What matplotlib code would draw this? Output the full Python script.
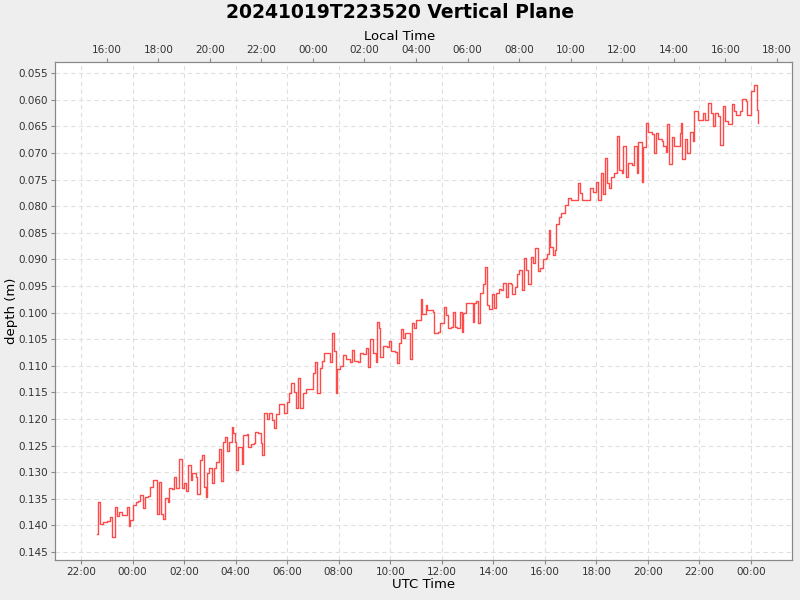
import matplotlib
matplotlib.use("Agg")
import matplotlib.pyplot as plt
import numpy as np

title = "20241019T223520 Vertical Plane"
# minutes since 2024-10-19 22:00 UTC
minutes = [37,40,44,51,61,68,72,78,84,89,95,106,111,115,122,127,133,137,144,149,157,161,167,176,181,186,190,196,202,206,
           213,217,221,229,234,240,244,250,255,259,268,271,277,282,286,291,293,299,304,310,314,321,326,330,335,339,344,351,355,359,
           361,366,374,378,386,389,396,403,404,413,418,421,427,434,438,445,449,454,460,473,479,485,490,496,501,506,511,518,525,539,
           545,550,556,560,566,580,584,589,594,597,603,611,617,626,630,636,646,650,657,663,669,674,680,687,690,693,696,704,712,718,
           721,731,735,740,744,749,754,766,770,775,780,791,795,803,806,819,822,832,836,845,850,855,861,865,871,876,882,886,890,896,
           912,915,920,925,930,935,940,946,950,956,961,967,973,979,983,989,994,1000,1004,1010,1016,1020,1026,1031,1037,1041,1048,1053,1058,1063,
           1069,1075,1083,1086,1090,1093,1098,1104,1107,1113,1118,1128,1134,1141,1158,1162,1166,1185,1193,1199,1204,1210,1215,1220,1225,1230,1235,1241,1247,1253,1259,1262,1269,
           1274,1282,1287,1294,1298,1305,1309,1315,1321,1329,1334,1339,1344,1352,1356,1362,1364,1370,1375,1380,1394,1398,1400,1406,1411,1418,1424,1428,1437,1449,
           1454,1460,1466,1471,1476,1484,1488,1494,1499,1507,1515,1520,1526,1534,1540,1548,1551,1559,1567,1573,1577]
depth = [.1416,.1356,.1397,.1393,.1391,.1384,.1421,.1365,.1382,.1374,.1380,.1365,.1401,.1389,.1361,.1356,.1354,.1343,.1367,.1346,.1344,.1327,.1314,.1378,.1318,.1378,.1388,.1348,.1356,.1329,
         .1331,.1309,.1329,.1275,.1329,.1320,.1335,.1286,.1314,.1301,.1309,.1341,.1277,.1267,.1327,.1346,.1301,.1292,.1320,.1292,.1281,.1256,.1316,.1243,.1234,.1260,.1243,.1215,.1226,.1243,
         .1296,.1252,.1284,.1230,.1228,.1252,.1247,.1245,.1224,.1226,.1245,.1267,.1189,.1200,.1189,.1202,.1217,.1190,.1172,.1189,.1168,.1151,.1132,.1149,.1179,.1123,.1179,.1151,.1143,.1113,
         .1093,.1151,.1104,.1091,.1076,.1093,.1038,.1072,.1151,.1106,.1100,.1080,.1087,.1093,.1070,.1091,.1093,.1076,.1078,.1066,.1102,.1050,.1076,.1093,.1018,.1029,.1083,.1063,.1065,.1053,
         .1072,.1074,.1095,.1057,.1031,.1048,.1038,.1087,.1020,.1029,.1014,.0974,.1003,.0986,.0995,.0999,.1038,.1036,.1020,.0989,.1004,.1029,.1027,.0999,.1027,.1029,.0999,.1036,.1001,.0982,
         .1018,.0982,.0978,.1020,.0963,.0946,.0914,.0986,.0993,.0965,.0991,.0963,.0956,.0958,.0944,.0971,.0944,.0946,.0965,.0952,.0927,.0920,.0958,.0897,.0920,.0946,.0896,.0907,.0879,.0922,
         .0916,.0899,.0897,.0890,.0845,.0877,.0892,.0882,.0834,.0820,.0812,.0798,.0785,.0789,.0757,.0775,.0789,.0766,.0773,.0755,.0789,.0738,.0777,.0710,.0757,.0766,.0745,.0738,.0668,.0732,.0738,.0687,.0745,
         .0719,.0723,.0687,.0738,.0680,.0755,.0689,.0644,.0661,.0665,.0700,.0663,.0674,.0678,.0687,.0698,.0646,.0721,.0670,.0687,.0663,.0644,.0711,.0674,.0700,.0661,.0678,.0621,.0638,.0625,
         .0638,.0606,.0625,.0650,.0625,.0631,.0685,.0612,.0640,.0646,.0608,.0621,.0629,.0621,.0599,.0602,.0629,.0584,.0573,.0619,.0644]

utc_ticks = list(range(0, 28, 2))
utc_labels = ["%02d:00" % ((22 + h) % 24) for h in utc_ticks]
local_ticks = list(range(1, 28, 2))
local_labels = ["%02d:00" % ((15 + h) % 24) for h in local_ticks]
ytick_vals = [0.055, 0.060, 0.065, 0.070, 0.075, 0.080, 0.085, 0.090, 0.095, 0.100,
              0.105, 0.110, 0.115, 0.120, 0.125, 0.130, 0.135, 0.140, 0.145]

hours = np.array(minutes) / 60.0
fig = plt.figure(figsize=(8, 6), dpi=100, facecolor="#eeeeee")
ax = fig.add_axes([55/800, 1-560/600, 737/800, 498/600])
ax.set_facecolor("white")
ax.plot(hours, depth, drawstyle="steps-post", color="#ff4a4a", lw=1.0)
ax.set_xlim(-1.009, 27.59)
ax.set_ylim(0.1465, 0.0529)
ax.set_yticks(ytick_vals)
ax.set_yticklabels(["%.3f" % v for v in ytick_vals], fontsize=7.5)
ax.set_xticks(utc_ticks)
ax.set_xticklabels(utc_labels, fontsize=7.5)
ax.grid(True, color="#e0e0e0", ls=(0, (4, 3)), lw=0.8)
ax.set_xlabel("UTC Time", fontsize=9.5, labelpad=1)
ax.tick_params(colors="#333333", length=3, color="#888888", pad=2)
for s in ax.spines.values():
    s.set_color("#888888")

ax2 = ax.twiny()
ax2.set_xlim(ax.get_xlim())
ax2.set_xticks(local_ticks)
ax2.set_xticklabels(local_labels, fontsize=7.5)
ax2.tick_params(colors="#333333", length=3, color="#888888", pad=2)
for s in ax2.spines.values():
    s.set_color("#888888")

fig.text(11/800, 1-311/600, "depth (m)", rotation=90, ha="center", va="center", fontsize=9.5)
fig.text(0.5, 1-36/600, "Local Time", ha="center", va="center", fontsize=9.5)
fig.text(0.5, 1-12/600, title, ha="center", va="center", fontsize=13.5, fontweight="bold")
fig.savefig("out.png", facecolor=fig.get_facecolor())
